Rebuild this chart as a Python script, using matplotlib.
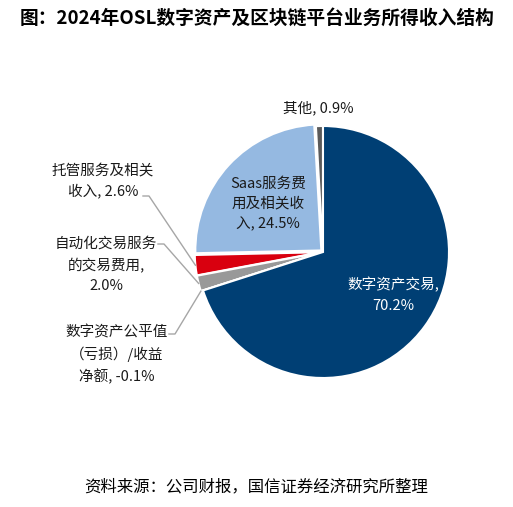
import numpy as np
import matplotlib
matplotlib.use("Agg")
import matplotlib.pyplot as plt

plt.rcParams['font.family'] = ['Noto Sans CJK SC', 'DejaVu Sans']

# data
labels = ["其他", "Saas服务费\n用及相关收\n入", "托管服务及相关\n收入", "自动化交易服务\n的交易费用,\n",
          "数字资产公平值\n（亏损）/收益\n净额", "数字资产交易,\n"]
values = [0.9, 24.5, 2.6, 2.0, -0.1, 70.2]
colors = ["#5a5a5a", "#95b9e1", "#d9000f", "#999999", "#7f7f7f", "#003f74"]
explode = [0.0, 0.018, 0.018, 0.018, 0.018, 0.0]

title = "图：2024年OSL数字资产及区块链平台业务所得收入结构"
source = "资料来源：公司财报，国信证券经济研究所整理"

W, H = 513, 507
fig = plt.figure(figsize=(W / 100, H / 100), dpi=100)
# pie: centre ~ (323, 252) px, radius ~126 px
cx, cy, r = 323, 252, 126
ax = fig.add_axes([(cx - r) / W, (H - cy - r) / H, 2 * r / W, 2 * r / H])

plot_vals = [max(v, 0) for v in values]
wedges, _ = ax.pie(plot_vals, colors=colors, startangle=90, counterclock=True,
                   explode=explode, radius=1.0,
                   wedgeprops=dict(edgecolor="white", linewidth=1.5))
ax.set_xlim(-1, 1)
ax.set_ylim(-1, 1)
ax.set_aspect("equal")
ax.axis("off")


def lab(i):
    v = values[i]
    sep = "" if labels[i].endswith("\n") else ", "
    return f"{labels[i]}{sep}{v:.1f}%"


def mid_point(i, rr=1.0):
    w = wedges[i]
    ang = np.deg2rad((w.theta1 + w.theta2) / 2)
    ox, oy = w.center
    return ox + rr * np.cos(ang), oy + rr * np.sin(ang)


txt_kw = dict(ha="center", va="center", fontsize=10.5, color="#1a1a1a",
              linespacing=1.55)

# inside labels
fig.text(268 / W, 1 - 204 / H, lab(1), **txt_kw)
fig.text(393 / W, 1 - 295 / H, lab(5), **{**txt_kw, "color": "white"})
# top label
fig.text(318 / W, 1 - 108 / H, lab(0), **txt_kw)

# outside labels with leader lines
outside = [
    (2, (103, 181), (143, 196)),
    (3, (106, 265), (158, 244)),
    (4, (117, 355), (169, 334)),
]
to_data = ax.transData.inverted()
for i, (tx, ty), (ex, ey) in outside:
    fig.text(tx / W, 1 - ty / H, lab(i), **txt_kw)
    p0 = to_data.transform((ex, H - ey))
    p1 = to_data.transform((ex + 6, H - ey))
    p2 = mid_point(i)
    ax.plot([p0[0], p1[0], p2[0]], [p0[1], p1[1], p2[1]], color="#a6a6a6",
            lw=1.0, clip_on=False)

fig.text(257 / W, 1 - 18 / H, title, ha="center", va="center", fontsize=13.5,
         fontweight="bold", color="black")
fig.text(256 / W, 1 - 487 / H, source, ha="center", va="center", fontsize=11.8,
         color="black")

fig.savefig("out.png", dpi=100, facecolor="white")
